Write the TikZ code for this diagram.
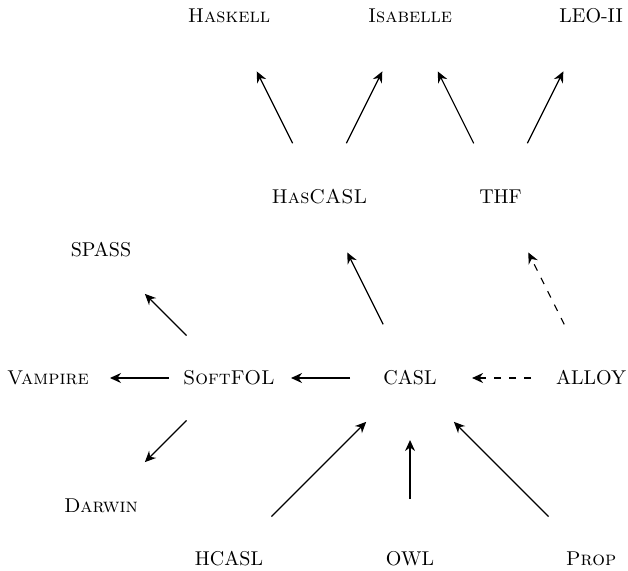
\documentclass[tikz,border=0pt]{standalone}
\usetikzlibrary{arrows.meta}

\begin{document}
\begin{tikzpicture}[x=3.18cm, y=3.18cm,
>={Stealth[length=5.5pt, width=5pt, inset=1.8pt]},
trans/.style={->, line width=0.6pt, shorten <=30pt, shorten >=31pt},
weak/.style={trans, dash pattern=on 3.5pt off 4pt}]
\useasboundingbox (-2.265,-1.066) rectangle (1.204,2.088);
% logics
\node (casl) at (0,0) {CASL};
\node (softfol) at (-1,0) {\textsc{SoftFOL}};
\node (vampire) at (-2,0) {\textsc{Vampire}};
\node (alloy) at (1,0) {ALLOY};
\node (spass) at (-1.707,0.707) {SPASS};
\node (darwin) at (-1.707,-0.707) {\textsc{Darwin}};
\node (hascasl) at (-0.5,1) {\textsc{HasCASL}};
\node (thf) at (0.5,1) {THF};
\node (haskell) at (-1,2) {\textsc{Haskell}};
\node (isabelle) at (0,2) {\textsc{Isabelle}};
\node (leo) at (1,2) {LEO-II};
\node (hcasl) at (-1,-1) {HCASL};
\node (owl) at (0,-1) {OWL};
\node (prop) at (1,-1) {\textsc{Prop}};
% comorphisms
\draw[trans] (hascasl.center) -- (haskell.center);
\draw[trans] (hascasl.center) -- (isabelle.center);
\draw[trans] (thf.center) -- (isabelle.center);
\draw[trans] (thf.center) -- (leo.center);
\draw[trans] (casl.center) -- (hascasl.center);
\draw[weak] (alloy.center) -- (thf.center);
\draw[trans] (softfol.center) -- (spass.center);
\draw[trans] (softfol.center) -- (vampire.center);
\draw[trans] (softfol.center) -- (darwin.center);
\draw[trans] (casl.center) -- (softfol.center);
\draw[weak] (alloy.center) -- (casl.center);
\draw[trans] (hcasl.center) -- (casl.center);
\draw[trans] (owl.center) -- (casl.center);
\draw[trans] (prop.center) -- (casl.center);
\end{tikzpicture}
\end{document}
